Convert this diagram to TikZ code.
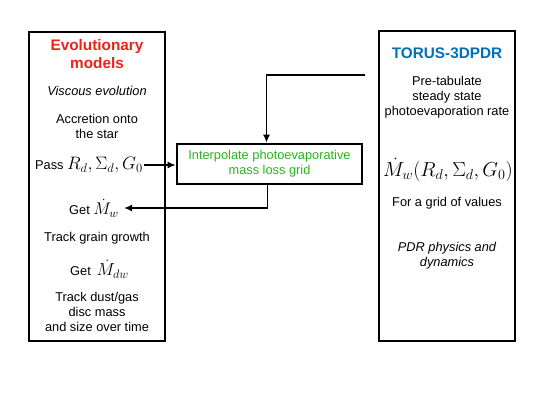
\RequirePackage{fix-cm}
\documentclass[tikz,border=0pt]{standalone}
\usepackage{fontspec}
\setmainfont{Liberation Sans}
\usepackage{amsmath}
\usetikzlibrary{arrows.meta,positioning,calc}
\definecolor{evored}{RGB}{235,35,25}
\definecolor{torusblue}{RGB}{0,112,185}
\definecolor{gridgreen}{RGB}{40,180,30}
\newcommand{\bigmath}[2]{{\fontsize{#1}{#1}\selectfont$#2$}}

\begin{document}
\begin{tikzpicture}[x=1pt, y=-1pt,
    panel/.style={draw, line width=2.6pt, inner sep=0pt},
    txt/.style={font=\fontsize{12.8}{15}\selectfont, align=center, inner sep=0pt},
    slant/.style={txt, font=\fontsize{12.8}{15}\selectfont\itshape},
    head/.style={font=\fontsize{15.3}{18}\selectfont\bfseries, align=center, inner sep=0pt},
    link/.style={line width=1.6pt, -{Latex[length=8pt, width=7pt]}}]
    \useasboundingbox (0,0) rectangle (545,409);

    % Evolutionary models column
    \node[panel, minimum width=136, minimum height=309] (evo) at (97,186.5) {};
    \node[head, text=evored] (evotitle) at (97,54) {Evolutionary\\models};
    \node[slant] (visc) at (97,91) {Viscous evolution};
    \node[txt] (accr) at (97,126) {Accretion onto\\the star};
    \node[txt] (pass) at (89,165) {Pass \bigmath{18}{R_d, \Sigma_d, G_0}};
    \node[txt] (get) at (94,208) {Get \bigmath{17}{\dot{M}_w}};
    \node[txt] (grain) at (97,238) {Track grain growth};
    \node[txt] (getdw) at (99.5,269) {Get\, \bigmath{17.5}{\dot{M}_{dw}}};
    \node[txt] (track) at (97,312) {Track dust/gas\\disc mass\\and size over time};

    % TORUS-3DPDR column
    \node[panel, minimum width=136, minimum height=310] (torus) at (447,186) {};
    \node[head, text=torusblue] (torustitle) at (447,53) {TORUS-3DPDR};
    \node[txt] (pretab) at (447,97) {Pre-tabulate\\steady state\\photoevaporation rate};
    \node[txt] (rate) at (448,170) {\bigmath{20.3}{\dot{M}_w(R_d, \Sigma_d, G_0)}};
    \node[txt] (values) at (447,203) {For a grid of values};
    \node[slant] (pdr) at (447,255.5) {PDR physics and\\dynamics};

    % Interpolation box
    \node[panel, minimum width=185, minimum height=40, txt, text=gridgreen] (grid) at (269.5,164) {Interpolate photoevaporative\\mass loss grid};

    % Connectors
    \coordinate (tab) at (365,75);
    \draw[link] (tab) -| ([xshift=-3]grid.north);
    \draw[link] ([xshift=1]pass.east) -- (pass.east -| grid.west);
    \draw[link] ([xshift=-2]grid.south) |- ([xshift=5]get.east);
\end{tikzpicture}
\end{document}
